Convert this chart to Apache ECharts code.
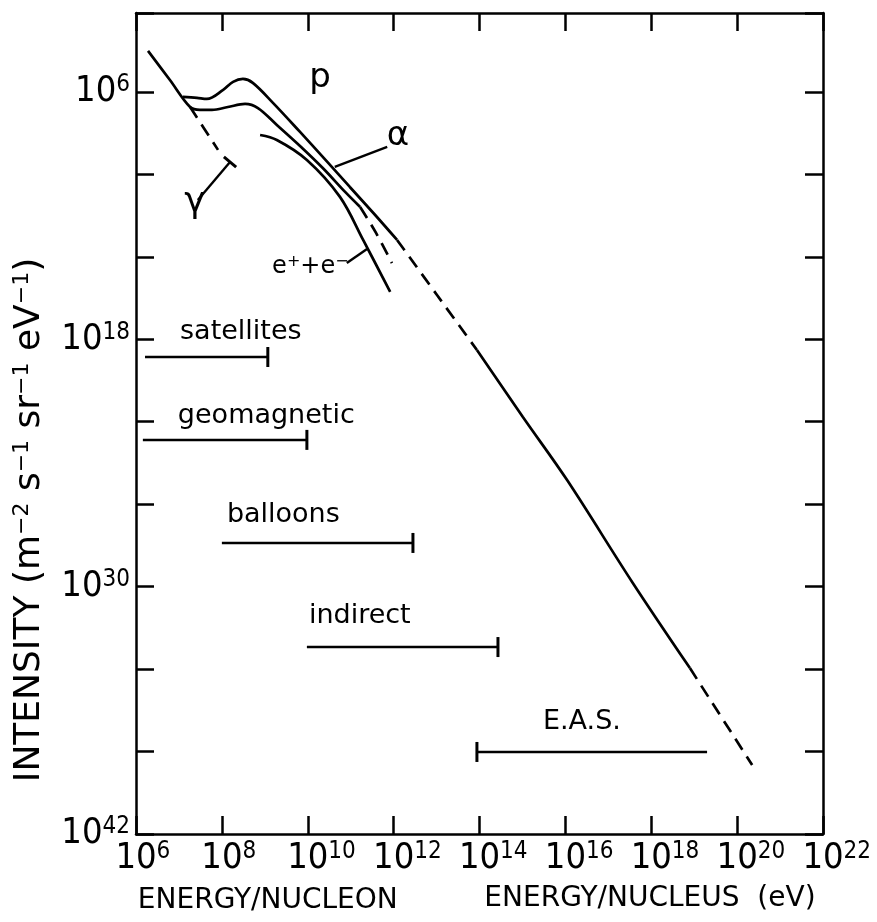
<!DOCTYPE html>
<html>
<head>
<meta charset="utf-8">
<script src="https://cdn.jsdelivr.net/npm/echarts@6.0.0/dist/echarts.min.js"></script>
<style>
html, body { margin: 0; padding: 0; background: #fff; }
#chart { width: 877px; height: 922px; }
</style>
</head>
<body>
<div id="chart"></div>
<script>
// Cosmic-ray intensity against energy.
// Every value is a log10: energy in eV, intensity in m^-2 s^-1 sr^-1 eV^-1.

// alpha particles (per nucleon), including the shared low-energy branch
const alphaLogE = [6.28, 6.79, 7.26, 7.49, 7.77, 8.14, 8.54, 8.84, 9.28, 9.82, 10.35, 10.87, 11.22];
const alphaLogI = [-4.01, -5.42, -6.73, -6.87, -6.87, -6.73, -6.58, -6.78, -7.60, -8.62, -9.69, -10.85, -11.58];
const alphaExtLogE = [11.22, 11.59, 11.96];
const alphaExtLogI = [-11.58, -12.84, -14.30];

// protons, then all nuclei per nucleus
const protonLogE = [7.09, 7.42, 7.65, 8.03, 8.26, 8.49, 8.72, 9.19, 9.82, 10.35, 10.98, 11.57, 12.08];
const protonLogI = [-6.24, -6.29, -6.34, -5.90, -5.51, -5.37, -5.56, -6.53, -7.94, -9.15, -10.61, -11.97, -13.18];
const protonBridgeLogE = [12.08, 13.01, 13.94];
const protonBridgeLogI = [-13.18, -15.85, -18.52];
const nucleusLogE = [13.94, 15.01, 16.04, 17.57, 18.90];
const nucleusLogI = [-18.52, -21.77, -24.83, -29.82, -33.95];
const nucleusExtLogE = [18.90, 20.35];
const nucleusExtLogI = [-33.95, -38.65];

// electrons + positrons
const electronLogE = [8.89, 9.28, 9.98, 10.75, 11.29, 11.92];
const electronLogI = [-8.09, -8.33, -9.30, -11.09, -13.18, -15.70];

// gamma rays
const gammaLogE = [7.26, 7.91];
const gammaLogI = [-6.73, -8.81];

// energy ranges reached by each technique
const methodNames = ['satellites', 'geomagnetic', 'balloons', 'indirect', 'E.A.S.'];
const methodFromLogE = [6.21, 6.16, 8.00, 9.98, 13.94];
const methodToLogE = [9.07, 9.98, 12.45, 14.43, 19.30];
const methodLevelLogI = [-18.86, -22.88, -27.88, -32.93, -38.02];
const methodCapAtStart = [false, false, false, false, true];

// pointer lines from the curve names
const alphaPointerLogE = [10.63, 11.85];
const alphaPointerLogI = [-9.64, -8.67];
const electronPointerLogE = [10.91, 11.38];
const electronPointerLogI = [-14.30, -13.62];
const gammaPointerLogE = [7.44, 8.19];
const gammaPointerLogI = [-11.24, -9.40];

// tick labels
const xLabelExponents = [6, 8, 10, 12, 14, 16, 18, 20, 22];
const yLabelExponents = [-6, -18, -30, -42];

const tickFont = '"Liberation Sans Narrow", "DejaVu Sans Condensed", "Liberation Sans", sans-serif';
const textFont = '"DejaVu Sans", "Liberation Sans", sans-serif';
const INK = '#000';

function textWidth(str, size, family) {
  const ctx = document.createElement('canvas').getContext('2d');
  ctx.font = size + 'px ' + family;
  return ctx.measureText(str).width;
}

const BASE_SIZE = 36, SUP_SIZE = 24;
const tickRich = {
  b: { fontFamily: tickFont, fontSize: BASE_SIZE, lineHeight: 38, color: INK },
  s: { fontFamily: tickFont, fontSize: SUP_SIZE, lineHeight: 25, verticalAlign: 'top', color: INK },
  p1: { width: textWidth('0', SUP_SIZE, tickFont) },
  p2: { width: textWidth('00', SUP_SIZE, tickFont) }
};

function pairs(xs, ys) { return xs.map((x, i) => [x, ys[i]]); }

function curve(xs, ys, dashed) {
  return {
    type: 'line', xAxisIndex: 0, yAxisIndex: 0, silent: true,
    data: pairs(xs, ys), symbol: 'none', smooth: 0.35,
    lineStyle: { color: INK, width: 2.7, type: dashed ? [13, 8] : 'solid' },
    z: 3
  };
}

function straight(xs, ys) {
  return {
    type: 'line', xAxisIndex: 0, yAxisIndex: 0, silent: true,
    data: pairs(xs, ys), symbol: 'none',
    lineStyle: { color: INK, width: 2.4 }, z: 3
  };
}

const series = [
  curve(alphaLogE, alphaLogI, false),
  curve(alphaExtLogE, alphaExtLogI, true),
  curve(protonLogE, protonLogI, false),
  curve(protonBridgeLogE, protonBridgeLogI, true),
  curve(nucleusLogE, nucleusLogI, false),
  curve(nucleusExtLogE, nucleusExtLogI, true),
  curve(electronLogE, electronLogI, false),
  curve(gammaLogE, gammaLogI, true),
  straight(alphaPointerLogE, alphaPointerLogI),
  straight(electronPointerLogE, electronPointerLogI)
];

// gamma pointer ends in a short cross bar
const gammaPointer = straight(gammaPointerLogE, gammaPointerLogI);
gammaPointer.symbol = 'rect';
gammaPointer.symbolSize = [3, 16];
gammaPointer.itemStyle = { color: INK, borderWidth: 0 };
gammaPointer.data = [
  { value: [gammaPointerLogE[0], gammaPointerLogI[0]], symbol: 'none' },
  { value: [gammaPointerLogE[1], gammaPointerLogI[1]], symbolRotate: 50 }
];
series.push(gammaPointer);

// range bars with an end cap
methodNames.forEach((name, i) => {
  const capStart = methodCapAtStart[i];
  series.push({
    type: 'line', name: name, xAxisIndex: 0, yAxisIndex: 0, silent: true,
    symbol: 'rect', symbolSize: [3, 20], showSymbol: true,
    itemStyle: { color: INK, borderWidth: 0 },
    lineStyle: { color: INK, width: 2.5 },
    data: [
      { value: [methodFromLogE[i], methodLevelLogI[i]], symbol: capStart ? 'rect' : 'none' },
      { value: [methodToLogE[i], methodLevelLogI[i]], symbol: capStart ? 'none' : 'rect' }
    ],
    z: 3
  });
});

const frameLine = { show: true, onZero: false, lineStyle: { color: INK, width: 2.5 } };
const inTicks = { show: true, inside: true, length: 18, lineStyle: { color: INK, width: 2.5 } };

function xAxis(pos, labels) {
  return {
    type: 'value', position: pos, min: 6, max: 22, interval: 2,
    axisLine: frameLine, axisTick: inTicks, splitLine: { show: false },
    axisLabel: labels ? {
      margin: 6, rich: tickRich, showMinLabel: true, showMaxLabel: true, hideOverlap: false,
      formatter: v => xLabelExponents.includes(v)
        ? '{p' + String(v).length + '|}{b|10}{s|' + v + '}' : ''
    } : { show: false }
  };
}

function yAxis(pos, labels) {
  return {
    type: 'value', position: pos, min: -42, max: -2.17, interval: 4,
    axisLine: frameLine, axisTick: inTicks, splitLine: { show: false },
    axisLabel: labels ? {
      margin: 6, rich: tickRich, showMinLabel: true, hideOverlap: false,
      formatter: v => yLabelExponents.includes(v) ? '{b|10}{s|' + Math.abs(v) + '}' : ''
    } : { show: false }
  };
}

const chart = echarts.init(document.getElementById('chart'), null, { renderer: 'canvas' });
chart.setOption({
  animation: false,
  backgroundColor: '#fff',
  grid: { left: 136, right: 54, top: 13, bottom: 88, containLabel: false, outerBoundsMode: 'none' },
  xAxis: [xAxis('bottom', true), xAxis('top', false)],
  yAxis: [yAxis('left', true), yAxis('right', false)],
  series: series
});

// annotations placed through the axes
const toPx = (x, y) => chart.convertToPixel({ seriesIndex: 0 }, [x, y]);
const graphics = [];

function addText(text, pos, opts) {
  graphics.push({
    type: 'text', x: pos[0], y: pos[1], silent: true,
    rotation: opts.rotation || 0,
    style: Object.assign({
      text: text, fill: INK, fontFamily: textFont, fontSize: 27,
      align: 'left', verticalAlign: 'middle'
    }, opts.style || {})
  });
}

// technique names above their bars
const methodLabelOffset = [[35, -25], [35, -24], [5, -28], [2, -31], [66, -30]];
methodNames.forEach((name, i) => {
  const p = toPx(methodFromLogE[i], methodLevelLogI[i]);
  addText(name, [p[0] + methodLabelOffset[i][0], p[1] + methodLabelOffset[i][1]], {});
});

// curve names
addText('p', toPx(10.285, -5.32), { style: { fontSize: 34, align: 'center' } });
addText('α', toPx(12.10, -8.13), { style: { fontSize: 34, align: 'center' } });
addText('γ', toPx(7.37, -11.39), { style: { fontSize: 36, align: 'center' } });
addText('{b|e}{s|+}{b|+e}{s|−}', toPx(9.17, -14.49), {
  style: {
    rich: {
      b: { fontFamily: textFont, fontSize: 24, lineHeight: 26, color: INK },
      s: { fontFamily: textFont, fontSize: 16, lineHeight: 16, verticalAlign: 'top', color: INK }
    }
  }
});

// axis titles
const titleRich = {
  b: { fontFamily: textFont, fontSize: 28, lineHeight: 30, color: INK },
  s: { fontFamily: textFont, fontSize: 18, lineHeight: 18, verticalAlign: 'top', color: INK }
};
const bottomY = toPx(6, -42)[1];
addText('{b|ENERGY/NUCLEON}', [toPx(9.07, -42)[0], bottomY + 67], { style: { align: 'center', rich: titleRich } });
addText('{b|ENERGY/NUCLEUS  (eV)}', [toPx(17.97, -42)[0], bottomY + 65], { style: { align: 'center', rich: titleRich } });

const yTitleRich = {
  b: { fontFamily: textFont, fontSize: 36, lineHeight: 38, color: INK },
  s: { fontFamily: textFont, fontSize: 22, lineHeight: 22, verticalAlign: 'top', color: INK }
};
addText('{b|INTENSITY (m}{s|−2}{b| s}{s|−1}{b| sr}{s|−1}{b| eV}{s|−1}{b|)}', [30, 520],
  { rotation: Math.PI / 2, style: { align: 'center', rich: yTitleRich } });

chart.setOption({ graphic: graphics });
</script>
</body>
</html>
